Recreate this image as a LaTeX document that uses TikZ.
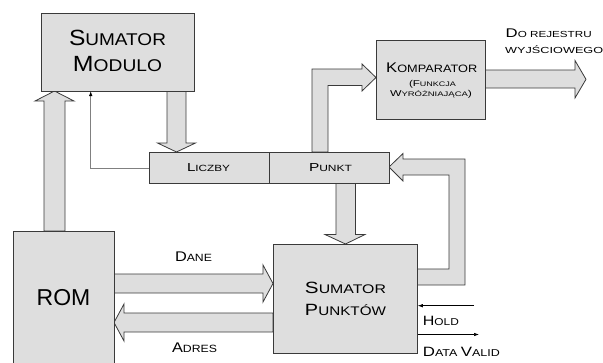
\documentclass[tikz,border=0pt]{standalone}
\usepackage{fontspec}
\setmainfont{Liberation Sans}
\usetikzlibrary{arrows.meta}
\definecolor{boxfill}{HTML}{DEDEDE}
\definecolor{edge}{HTML}{3A3A3A}
\definecolor{thin}{HTML}{808080}
\newcommand\scb{12}
\newcommand\scs{9}
\newcommand\setsc[2]{\def\scb{#1}\def\scs{#2}}
\newcommand\Bg[1]{{\fontsize{\scb}{\scb}\selectfont #1}}
\newcommand\Sm[1]{{\fontsize{\scs}{\scs}\selectfont #1}}
\newcommand\fitw[2]{\resizebox{#1}{\height}{#2}}
\tikzset{
  box/.style={draw=edge, fill=boxfill, line width=0.8pt, minimum width=#1, inner sep=0pt, anchor=north west},
  blk/.style={draw=edge, fill=boxfill, line width=0.8pt, line join=miter},
  txt/.style={inner sep=0pt, anchor=base, text=black},
  txtl/.style={inner sep=0pt, anchor=base west, text=black},
  sig/.style={draw=black, line width=0.6pt, -{Latex[length=5pt,width=3.5pt]}},
  fb/.style={draw=thin, line width=0.8pt, -{Latex[length=5pt,width=3.5pt,color=black]}}
}
\begin{document}
\begin{tikzpicture}[x=1pt,y=-1pt]
\useasboundingbox (0,0) rectangle (603,362);
% block arrows
\draw[blk] (44,231) -- (44,101) -- (35,101) -- (54.5,91) -- (74,101) -- (65,101) -- (65,231) -- cycle;
\draw[blk] (167,91) -- (167,143) -- (157.5,143) -- (176.5,152) -- (195.5,143) -- (186,143) -- (186,91) -- cycle;
\draw[blk] (312,152) -- (312,69) -- (362,69) -- (362,64) -- (376,77.5) -- (362,91) -- (362,85.5) -- (328,85.5) -- (328,152) -- cycle;
\draw[blk] (485,70) -- (575,70) -- (575,60.5) -- (586,79.3) -- (575,98) -- (575,88) -- (485,88) -- cycle;
\draw[blk] (417,269) -- (449,269) -- (449,175) -- (403,175) -- (403,181) -- (389,167) -- (403,153.5) -- (403,159) -- (465,159) -- (465,285) -- (417,285) -- cycle;
\draw[blk] (336,183) -- (336,234.5) -- (325,234.5) -- (345.5,244) -- (365,234.5) -- (355.5,234.5) -- (355.5,183) -- cycle;
\draw[blk] (114,274) -- (263,274) -- (263,265) -- (273,283.5) -- (263,302) -- (263,293) -- (114,293) -- cycle;
\draw[blk] (273,313) -- (124,313) -- (124,304) -- (114,322.5) -- (124,341) -- (124,332) -- (273,332) -- cycle;
% boxes
\node[box=153pt, minimum height=78pt] (summod) at (41,13) {};
\node[box=120pt, minimum height=31pt] (liczby) at (149,152) {};
\node[box=120pt, minimum height=31pt] (punkt) at (269,152) {};
\node[box=109pt, minimum height=79pt] (komp) at (376,40) {};
\node[box=101pt, minimum height=140pt] (rom) at (13,231) {};
\node[box=144pt, minimum height=109pt] (sp) at (273,244) {};
% thin connectors
\coordinate (tm) at (90.7,91);
\draw[fb] (liczby.west) -| (tm);
\coordinate (h0) at (474,305.7);
\draw[sig] (h0) -- (h0 -| sp.east);
\coordinate (d1) at (479,334.5);
\draw[sig] (d1 -| sp.east) -- (d1);
% texts
\node[txt] (t1) at (117.5,45.7) {\setsc{22}{17}\fitw{97pt}{\Bg{S}\Sm{UMATOR}}};
\node[txt] (t2) at (117.5,71.7) {\setsc{22}{17}\fitw{89pt}{\Bg{M}\Sm{ODULO}}};
\node[txt] (t3) at (63.5,305) {\fontsize{23}{23}\selectfont ROM};
\node[txt] (t4) at (431.7,72.7) {\setsc{14}{10.7}\fitw{91pt}{\Bg{K}\Sm{OMPARATOR}}};
\node[txt] (t5) at (432.5,86.7) {\setsc{8.5}{6.6}\fitw{47pt}{\Bg{(F}\Sm{UNKCJA}}};
\node[txt] (t6) at (431,96.7) {\setsc{8.5}{6.6}\fitw{82pt}{\Bg{W}\Sm{YRÓŻNIAJĄCA}\Bg{)}}};
\node[txt] (t7) at (208.5,171.7) {\setsc{11.6}{9}\fitw{43pt}{\Bg{L}\Sm{ICZBY}}};
\node[txt] (t8) at (330.5,171.7) {\setsc{11.6}{9}\fitw{43pt}{\Bg{P}\Sm{UNKT}}};
\node[txt] (t9) at (345.5,293.3) {\setsc{16.3}{12.5}\fitw{81pt}{\Bg{S}\Sm{UMATOR}}};
\node[txt] (t10) at (345.5,315) {\setsc{16.3}{12.5}\fitw{81pt}{\Bg{P}\Sm{UNKTÓW}}};
\node[txt] (t11) at (193.5,261.7) {\setsc{14}{10.5}\fitw{37pt}{\Bg{D}\Sm{ANE}}};
\node[txt] (t12) at (194.5,352.7) {\setsc{14}{10.5}\fitw{45pt}{\Bg{A}\Sm{DRES}}};
\node[txtl] (t13) at (422.7,325) {\setsc{13.5}{10}\fitw{36pt}{\Bg{H}\Sm{OLD}}};
\node[txtl] (t14) at (422.7,356.7) {\setsc{13.5}{10}\fitw{77pt}{\Bg{D}\Sm{ATA }\Bg{V}\Sm{ALID}}};
\node[txtl] (t15) at (505.5,37.3) {\setsc{12.6}{8.8}\fitw{86pt}{\Bg{D}\Sm{O REJESTRU}}};
\node[txtl] (t16) at (505,53.3) {\setsc{12.6}{8.8}\fitw{98pt}{\Sm{WYJŚCIOWEGO}}};
\end{tikzpicture}
\end{document}
